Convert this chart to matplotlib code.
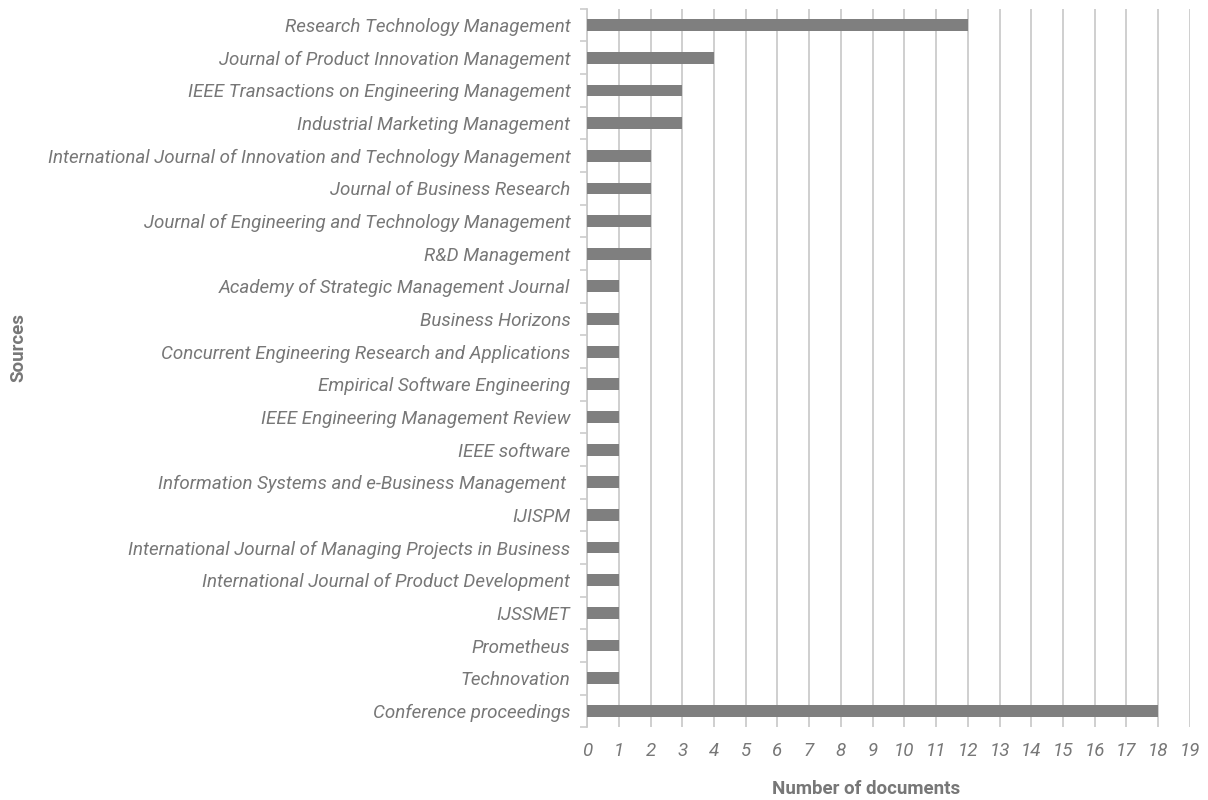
import matplotlib.pyplot as plt
import numpy as np

# Sources and number of documents (top to bottom as shown)
sources = [
    "Research Technology Management",
    "Journal of Product Innovation Management",
    "IEEE Transactions on Engineering Management",
    "Industrial Marketing Management",
    "International Journal of Innovation and Technology Management",
    "Journal of Business Research",
    "Journal of Engineering and Technology Management",
    "R&D Management",
    "Academy of Strategic Management Journal",
    "Business Horizons",
    "Concurrent Engineering Research and Applications",
    "Empirical Software Engineering",
    "IEEE Engineering Management Review",
    "IEEE software",
    "Information Systems and e-Business Management ",
    "IJISPM",
    "International Journal of Managing Projects in Business",
    "International Journal of Product Development",
    "IJSSMET",
    "Prometheus",
    "Technovation",
    "Conference proceedings",
]
documents = [12, 4, 3, 3, 2, 2, 2, 2, 1, 1, 1, 1, 1, 1, 1, 1, 1, 1, 1, 1, 1, 18]
x_ticks = list(range(0, 20))

BAR_COLOR = '#7f7f7f'
TEXT_COLOR = '#777777'
GRID_COLOR = '#cccccc'

plt.rcParams['font.family'] = ['Roboto', 'DejaVu Sans']

fig = plt.figure(figsize=(12.08, 8), dpi=100)
ax = fig.add_axes([0.486, 0.091, 0.499, 0.898])

y = np.arange(len(sources))
ax.barh(y, documents, height=0.36, color=BAR_COLOR, zorder=3)

ax.set_ylim(len(sources) - 0.5, -0.5)
ax.set_xlim(0, 19)

ax.set_yticks(y)
ax.set_yticklabels(sources, fontsize=13.5, style='italic', color=TEXT_COLOR)
ax.set_yticks(np.arange(-0.5, len(sources), 1), minor=True)
ax.tick_params(axis='y', which='major', length=0, pad=12)
ax.tick_params(axis='y', which='minor', length=5, color=GRID_COLOR, width=1.2)

ax.set_xticks(x_ticks)
ax.set_xticklabels([str(v) for v in x_ticks], fontsize=13.5, style='italic',
                   color=TEXT_COLOR)
ax.tick_params(axis='x', length=0, pad=11)

ax.grid(axis='x', color=GRID_COLOR, linewidth=1.3, zorder=0)
for side in ['top', 'right', 'bottom']:
    ax.spines[side].set_visible(False)
ax.spines['left'].set_color(GRID_COLOR)
ax.spines['left'].set_linewidth(1.3)

# axis titles sit a little off-centre in the original
fig.text(0.717, 0.014, "Number of documents", fontsize=13.5, fontweight='bold',
         color=TEXT_COLOR, ha='center', va='center')
fig.text(0.015, 0.566, "Sources", rotation=90, fontsize=13.5, fontweight='bold',
         color=TEXT_COLOR, ha='center', va='center')

fig.savefig("out.png", dpi=100)
